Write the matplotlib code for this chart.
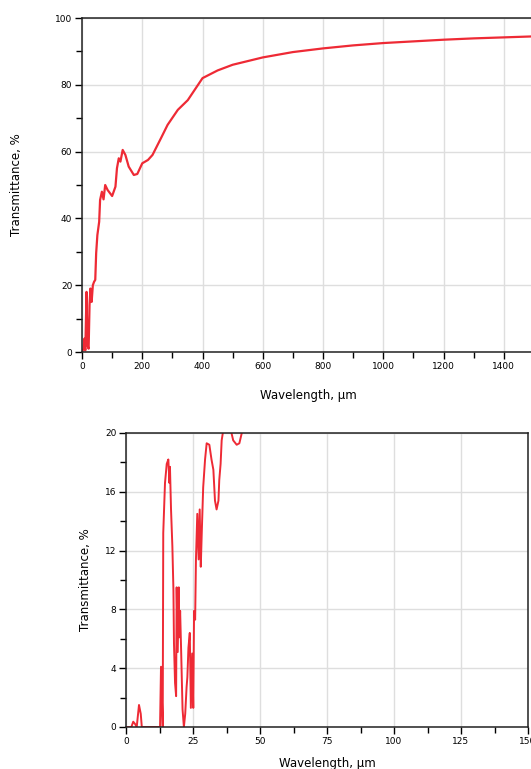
import numpy as np
import matplotlib.pyplot as plt
from matplotlib.ticker import MultipleLocator

# Full range transmittance (wavelength in um, transmittance in %)
wl_full = [0, 5, 8, 11, 15, 18, 22, 25, 28, 32, 36, 40, 44, 47, 51, 57, 60, 66,
           71.5, 77, 85, 100, 111, 116, 122, 127.5, 135, 144, 155, 172, 183.5,
           200, 219, 234, 262, 284, 318, 351, 400, 450, 500, 600, 700, 800,
           900, 1000, 1100, 1200, 1300, 1400, 1500]
tr_full = [0, 1, 4, 0.5, 18, 2, 1, 14, 19, 15, 20, 21, 21.6, 29.6, 35, 39, 45.5,
           48, 45.7, 50, 48.5, 46.7, 49.5, 55, 58, 57, 60.5, 59, 55.5, 53, 53.3,
           56.5, 57.5, 59, 64, 68, 72.5, 75.4, 82, 84.3, 86, 88.2, 89.8, 90.9,
           91.8, 92.5, 93.0, 93.5, 93.9, 94.2, 94.5]

# Zoomed region 0-45 um
wl_zoom = [0, 0.9, 2, 2.7, 3.4, 4, 4.85, 5.5, 5.9, 12.7, 13.06, 13.7, 13.9, 14.55,
           15.2, 15.8, 16.2, 16.4, 16.8, 17.3, 17.7, 17.9, 18.3, 18.7, 18.9,
           19.3, 19.7, 19.9, 20.2, 20.6, 20.9, 21.1, 21.6, 22.1, 22.6, 22.9,
           23.3, 23.8, 24.2, 24.7, 25.1, 25.4, 25.8, 26.1, 26.6, 27.1, 27.5,
           27.9, 28.3, 28.8, 29.5, 30.1, 31.1, 31.9, 32.6, 33.2, 33.8, 34.5,
           34.8, 35.3, 35.7, 36.3, 39.1, 40, 41.3, 42.3, 43.2, 43.8, 47]
tr_zoom = [0, 0, 0, 0.36, 0.2, 0, 1.5, 0.9, 0, 0, 4.1, 0, 13.2, 16.6,
           17.9, 18.2, 16.6, 17.7, 14.8, 12.3, 9.3, 5.7, 3.0, 2.1, 9.5,
           5.1, 9.5, 6.1, 7.9, 5, 2.7, 1.2, 0, 0.9, 2.7, 3.4,
           5.4, 6.4, 1.3, 5, 1.3, 7.9, 7.3, 11.4, 14.5, 11.4, 14.8,
           10.9, 13.4, 16.3, 18.2, 19.3, 19.2, 18.2, 17.5, 15.4, 14.8, 15.4,
           16.8, 17.9, 19.5, 20.2, 20.2, 19.5, 19.2, 19.3, 20, 20.5, 28]

red = '#ee2a35'
grid_col = '#dedede'
tick_fs = 6.5
label_fs = 8.5

fig = plt.figure(figsize=(5.31, 7.69), dpi=100)

ax1 = fig.add_axes([82/531, 1-352/769, (534-82)/531, (352-18)/769])
ax2 = fig.add_axes([126/531, 1-727/769, (528-126)/531, (727-433)/769])

ax1.plot(wl_full, tr_full, color=red, lw=1.6)
ax1.set_xlim(0, 1500)
ax1.set_ylim(0, 100)
ax1.xaxis.set_major_locator(MultipleLocator(200))
ax1.xaxis.set_minor_locator(MultipleLocator(100))
ax1.yaxis.set_major_locator(MultipleLocator(20))
ax1.yaxis.set_minor_locator(MultipleLocator(10))

ax2.plot(wl_zoom, tr_zoom, color=red, lw=1.4)
ax2.set_xlim(0, 150)
ax2.set_ylim(0, 20)
ax2.xaxis.set_major_locator(MultipleLocator(25))
ax2.xaxis.set_minor_locator(MultipleLocator(12.5))
ax2.yaxis.set_major_locator(MultipleLocator(4))
ax2.yaxis.set_minor_locator(MultipleLocator(2))

for ax in (ax1, ax2):
    ax.grid(True, which='major', color=grid_col, lw=1)
    ax.set_axisbelow(True)
    for s in ax.spines.values():
        s.set_linewidth(1.1)
        s.set_color('#222222')
    ax.tick_params(which='major', direction='out', length=5, width=1,
                   labelsize=tick_fs, pad=2)
    ax.tick_params(which='minor', direction='out', length=4, width=1)
    ax.set_ylabel("Transmittance, %", fontsize=label_fs)
    ax.set_xlabel("Wavelength, \u03bcm", fontsize=label_fs)

ax1.yaxis.labelpad = 23
ax1.xaxis.labelpad = 13
ax2.yaxis.labelpad = 9
ax2.xaxis.labelpad = 8

fig.savefig("out.png", dpi=100)
